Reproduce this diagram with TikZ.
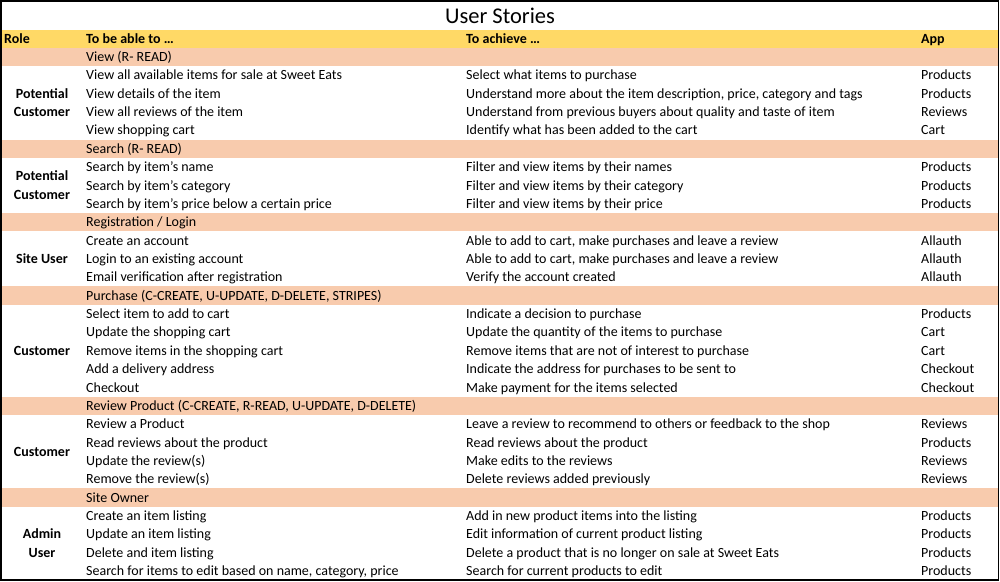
\documentclass[tikz,border=0pt]{standalone}
\usepackage{fontspec}
\setmainfont{Carlito}
\usepackage{tikz}
\usetikzlibrary{positioning}

\definecolor{hdryellow}{HTML}{FFD966}
\definecolor{secsalmon}{HTML}{F8CBAD}

\begin{document}
\begin{tikzpicture}[
    x=1pt, y=-1pt,
    cell/.style={anchor=base west, inner sep=0pt, font=\fontsize{14}{18.36}\selectfont},
    hcell/.style={cell, font=\fontsize{14}{18.36}\selectfont\bfseries},
    role/.style={anchor=base, inner sep=0pt, align=center, font=\fontsize{14}{18.36}\selectfont\bfseries},
    app/.style={cell},
    hdr_band/.style={fill=hdryellow},
    sec_band/.style={fill=secsalmon}
]
\useasboundingbox (0,0) rectangle (1000,581);

% --- Bands ---
\fill [hdr_band] (1,29.5) rectangle (998,47.8);
\fill [sec_band] (1,47.8) rectangle (998,66.16);
\fill [sec_band] (1,139.6) rectangle (998,157.96);
\fill [sec_band] (1,213.04) rectangle (998,231.4);
\fill [sec_band] (1,286.48) rectangle (998,304.84);
\fill [sec_band] (1,396.64) rectangle (998,415.0);
\fill [sec_band] (1,488.44) rectangle (998,506.8);

% --- Title and header ---
\node (title) [anchor=base, inner sep=0pt, font=\fontsize{22.5}{26}\selectfont] at (500,23) {User Stories};
\node (h_role) [hcell] at (4,43.5) {Role};
\node (h_do) [hcell] at (86,43.5) {To be able to …};
\node (h_to) [hcell] at (466,43.5) {To achieve …};
\node (h_app) [hcell] at (921,43.5) {App};

% --- View ---
\node (view) [cell] at (86,61.5) {View (R- READ)};
\node (view_role) [role] at (42,116.6) {Potential\\Customer};
\node (view1_do) [cell] at (86,79.9) {View all available items for sale at Sweet Eats};
\node (view1_to) [cell] at (466,79.9) {Select what items to purchase};
\node (view1_app) [app] at (921,79.9) {Products};
\node (view2_do) [cell] at (86,98.2) {View details of the item};
\node (view2_to) [cell] at (466,98.2) {Understand more about the item description, price, category and tags};
\node (view2_app) [app] at (921,98.2) {Products};
\node (view3_do) [cell] at (86,116.6) {View all reviews of the item};
\node (view3_to) [cell] at (466,116.6) {Understand from previous buyers about quality and taste of item};
\node (view3_app) [app] at (921,116.6) {Reviews};
\node (view4_do) [cell] at (86,134.9) {View shopping cart};
\node (view4_to) [cell] at (466,134.9) {Identify what has been added to the cart};
\node (view4_app) [app] at (921,134.9) {Cart};

% --- Search ---
\node (search) [cell] at (86,153.3) {Search (R- READ)};
\node (search_role) [role] at (42,199.2) {Potential\\Customer};
\node (search1_do) [cell] at (86,171.7) {Search by item's name};
\node (search1_to) [cell] at (466,171.7) {Filter and view items by their names};
\node (search1_app) [app] at (921,171.7) {Products};
\node (search2_do) [cell] at (86,190.0) {Search by item's category};
\node (search2_to) [cell] at (466,190.0) {Filter and view items by their category};
\node (search2_app) [app] at (921,190.0) {Products};
\node (search3_do) [cell] at (86,208.4) {Search by item's price below a certain price};
\node (search3_to) [cell] at (466,208.4) {Filter and view items by their price};
\node (search3_app) [app] at (921,208.4) {Products};

% --- Registration ---
\node (reg) [cell] at (86,226.7) {Registration / Login};
\node (reg_role) [role] at (42,263.5) {Site User};
\node (reg1_do) [cell] at (86,245.1) {Create an account};
\node (reg1_to) [cell] at (466,245.1) {Able to add to cart, make purchases and leave a review};
\node (reg1_app) [app] at (921,245.1) {Allauth};
\node (reg2_do) [cell] at (86,263.5) {Login to an existing account};
\node (reg2_to) [cell] at (466,263.5) {Able to add to cart, make purchases and leave a review};
\node (reg2_app) [app] at (921,263.5) {Allauth};
\node (reg3_do) [cell] at (86,281.8) {Email verification after registration};
\node (reg3_to) [cell] at (466,281.8) {Verify the account created};
\node (reg3_app) [app] at (921,281.8) {Allauth};

% --- Purchase ---
\node (buy) [cell] at (86,300.2) {Purchase (C-CREATE, U-UPDATE, D-DELETE, STRIPES)};
\node (buy_role) [role] at (42,355.3) {Customer};
\node (buy1_do) [cell] at (86,318.5) {Select item to add to cart};
\node (buy1_to) [cell] at (466,318.5) {Indicate a decision to purchase};
\node (buy1_app) [app] at (921,318.5) {Products};
\node (buy2_do) [cell] at (86,336.9) {Update the shopping cart};
\node (buy2_to) [cell] at (466,336.9) {Update the quantity of the items to purchase};
\node (buy2_app) [app] at (921,336.9) {Cart};
\node (buy3_do) [cell] at (86,355.3) {Remove items in the shopping cart};
\node (buy3_to) [cell] at (466,355.3) {Remove items that are not of interest to purchase};
\node (buy3_app) [app] at (921,355.3) {Cart};
\node (buy4_do) [cell] at (86,373.6) {Add a delivery address};
\node (buy4_to) [cell] at (466,373.6) {Indicate the address for purchases to be sent to};
\node (buy4_app) [app] at (921,373.6) {Checkout};
\node (buy5_do) [cell] at (86,392.0) {Checkout};
\node (buy5_to) [cell] at (466,392.0) {Make payment for the items selected};
\node (buy5_app) [app] at (921,392.0) {Checkout};

% --- Review Product ---
\node (rev) [cell] at (86,410.3) {Review Product (C-CREATE, R-READ, U-UPDATE, D-DELETE)};
\node (rev_role) [role] at (42,456.2) {Customer};
\node (rev1_do) [cell] at (86,428.7) {Review a Product};
\node (rev1_to) [cell] at (466,428.7) {Leave a review to recommend to others or feedback to the shop};
\node (rev1_app) [app] at (921,428.7) {Reviews};
\node (rev2_do) [cell] at (86,447.1) {Read reviews about the product};
\node (rev2_to) [cell] at (466,447.1) {Read reviews about the product};
\node (rev2_app) [app] at (921,447.1) {Products};
\node (rev3_do) [cell] at (86,465.4) {Update the review(s)};
\node (rev3_to) [cell] at (466,465.4) {Make edits to the reviews};
\node (rev3_app) [app] at (921,465.4) {Reviews};
\node (rev4_do) [cell] at (86,483.8) {Remove the review(s)};
\node (rev4_to) [cell] at (466,483.8) {Delete reviews added previously};
\node (rev4_app) [app] at (921,483.8) {Reviews};

% --- Site Owner ---
\node (own) [cell] at (86,502.1) {Site Owner};
\node (own_role) [role] at (42,557.2) {Admin\\User};
\node (own1_do) [cell] at (86,520.5) {Create an item listing};
\node (own1_to) [cell] at (466,520.5) {Add in new product items into the listing};
\node (own1_app) [app] at (921,520.5) {Products};
\node (own2_do) [cell] at (86,538.9) {Update an item listing};
\node (own2_to) [cell] at (466,538.9) {Edit information of current product listing};
\node (own2_app) [app] at (921,538.9) {Products};
\node (own3_do) [cell] at (86,557.2) {Delete and item listing};
\node (own3_to) [cell] at (466,557.2) {Delete a product that is no longer on sale at Sweet Eats};
\node (own3_app) [app] at (921,557.2) {Products};
\node (own4_do) [cell] at (86,575.6) {Search for items to edit based on name, category, price};
\node (own4_to) [cell] at (466,575.6) {Search for current products to edit};
\node (own4_app) [app] at (921,575.6) {Products};

% --- Frame ---
\draw [line width=1.5pt] (0.75,0.75) rectangle (998.5,579.75);

\end{tikzpicture}
\end{document}
